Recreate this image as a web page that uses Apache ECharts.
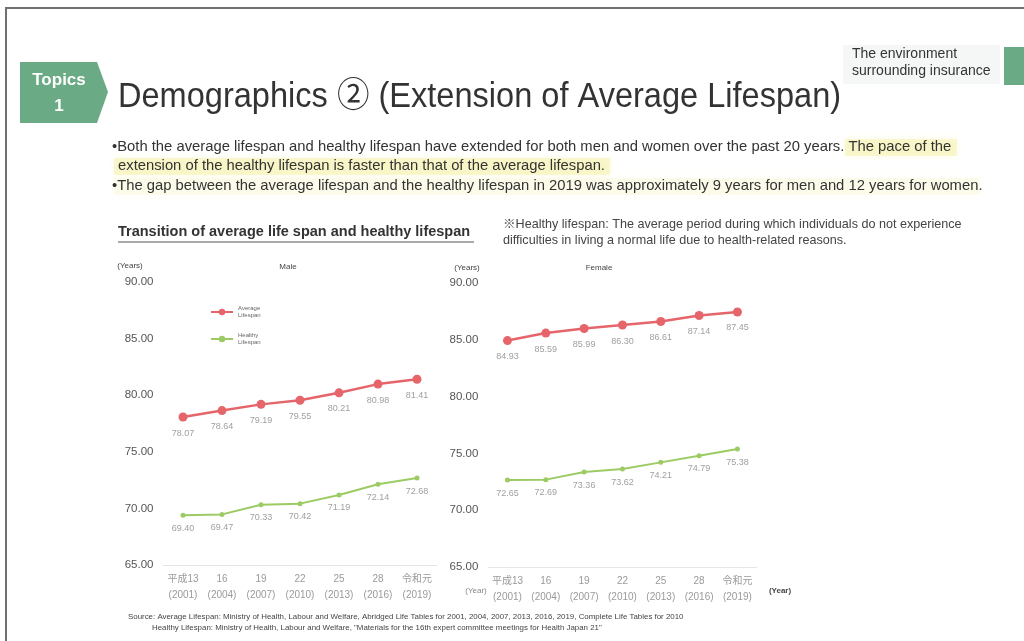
<!DOCTYPE html>
<html>
<head>
<meta charset="utf-8">
<script src="https://cdn.jsdelivr.net/npm/echarts@6/dist/echarts.min.js"></script>
<style>
  html, body { margin: 0; padding: 0; background: #fff; }
  #chart { width: 1024px; height: 641px; }
</style>
</head>
<body>
<div id="chart"></div>
<script>
// Survey years (Japanese era year + Gregorian year)
const years = ['平成13\n(2001)', '16\n(2004)', '19\n(2007)', '22\n(2010)', '25\n(2013)', '28\n(2016)', '令和元\n(2019)'];

// Male
const maleAverage = [78.07, 78.64, 79.19, 79.55, 80.21, 80.98, 81.41];
const maleHealthy = [69.40, 69.47, 70.33, 70.42, 71.19, 72.14, 72.68];

// Female
const femaleAverage = [84.93, 85.59, 85.99, 86.30, 86.61, 87.14, 87.45];
const femaleHealthy = [72.65, 72.69, 73.36, 73.62, 74.21, 74.79, 75.38];

// Y axis range (years)
const yMin = 65, yMax = 90, yStep = 5;

const RED = '#e6656b';
const GREEN = '#9ccb63';
const FONT = '"Liberation Sans", Arial, "Noto Sans CJK JP", sans-serif';

const chart = echarts.init(document.getElementById('chart'), null, { renderer: 'canvas' });

function yAxisCfg(gridIndex) {
  return {
    type: 'value', gridIndex, min: yMin, max: yMax, interval: yStep,
    axisLine: { show: false }, axisTick: { show: false },
    splitLine: { show: false },
    axisLabel: { formatter: v => v.toFixed(2), color: '#555', fontSize: 11.5, fontFamily: FONT, margin: 10 }
  };
}
function xAxisCfg(gridIndex) {
  return {
    type: 'category', gridIndex, data: years, boundaryGap: true,
    axisLine: { show: true, lineStyle: { color: '#e2e2e2', type: 'dotted' } },
    axisTick: { show: false },
    axisLabel: { interval: 0, color: '#9a9a9a', fontSize: 10, lineHeight: 16, margin: 6, fontFamily: FONT }
  };
}
function lineSeries(name, data, xi, color, big) {
  return {
    name, type: 'line', xAxisIndex: xi, yAxisIndex: xi, data,
    symbol: 'circle', symbolSize: big ? 9 : 5,
    lineStyle: { color, width: big ? 2.5 : 2 },
    itemStyle: { color },
    label: {
      show: true, position: 'bottom', distance: big ? 7 : 6,
      formatter: p => p.value.toFixed(2),
      color: '#a0a0a0', fontSize: 9, fontFamily: FONT
    },
    z: 3
  };
}

const txt = (text, x, y, font, fill, extra) => ({
  type: 'text', silent: true,
  style: Object.assign({ text, x, y, font, fill, textVerticalAlign: 'middle' }, extra || {})
});

const HL = 'rgba(244,240,160,0.45)';
const HL_GLOW = 'rgba(244,240,160,0.6)';

const graphics = [
  // slide frame
  { type: 'polyline', shape: { points: [[6, 641], [6, 8], [1024, 8]] }, style: { stroke: '#707070', lineWidth: 2, fill: null } },
  // topic badge
  { type: 'polygon', shape: { points: [[20, 62], [97, 62], [108, 92], [97, 123], [20, 123]] }, style: { fill: '#6aab86' } },
  txt('Topics', 59, 80, 'bold 17px ' + FONT, '#fff', { textAlign: 'center' }),
  txt('1', 59, 106, 'bold 17px ' + FONT, '#fff', { textAlign: 'center' }),
  // title
  { type: 'text', silent: true, x: 118, y: 97, scaleX: 0.93,
    style: { text: 'Demographics ② (Extension of Average Lifespan)', x: 0, y: 0, font: '35px ' + FONT, fill: '#333', textVerticalAlign: 'middle' } },
  // section tag
  { type: 'rect', shape: { x: 843, y: 45, width: 157, height: 39 }, style: { fill: '#f5f7f6' } },
  { type: 'rect', shape: { x: 1004, y: 47, width: 20, height: 38 }, style: { fill: '#6aab86' } },
  txt('The environment', 852, 54, '14px ' + FONT, '#333'),
  txt('surrounding insurance', 852, 71, '14px ' + FONT, '#333'),
  // soft highlights behind key sentences
  { type: 'rect', shape: { x: 845, y: 139, width: 112, height: 17 }, style: { fill: HL, shadowBlur: 6, shadowColor: HL_GLOW } },
  { type: 'rect', shape: { x: 114, y: 158, width: 496, height: 17 }, style: { fill: HL, shadowBlur: 6, shadowColor: HL_GLOW } },
  { type: 'rect', shape: { x: 114, y: 178, width: 866, height: 17 }, style: { fill: 'rgba(246,244,190,0.25)', shadowBlur: 6, shadowColor: 'rgba(246,244,190,0.4)' } },
  // bullet text
  txt('•Both the average lifespan and healthy lifespan have extended for both men and women over the past 20 years. The pace of the', 112, 147, '14.8px ' + FONT, '#333'),
  txt('extension of the healthy lifespan is faster than that of the average lifespan.', 118, 166, '14.8px ' + FONT, '#333'),
  txt('•The gap between the average lifespan and the healthy lifespan in 2019 was approximately 9 years for men and 12 years for women.', 112, 186, '14.8px ' + FONT, '#333'),
  // chart subtitle
  txt('Transition of average life span and healthy lifespan', 118, 232, 'bold 14.5px ' + FONT, '#333'),
  { type: 'line', shape: { x1: 118, y1: 242, x2: 474, y2: 242 }, style: { stroke: '#555', lineWidth: 1 } },
  // definition note
  txt('※Healthy lifespan: The average period during which individuals do not experience', 503, 225, '12.6px ' + FONT, '#444'),
  txt('difficulties in living a normal life due to health-related reasons.', 503, 241, '12.6px ' + FONT, '#444'),
  // panel headings
  txt('(Years)', 130, 266, '8px ' + FONT, '#444', { textAlign: 'center' }),
  txt('Male', 288, 267, '8px ' + FONT, '#444', { textAlign: 'center' }),
  txt('(Years)', 467, 268, '8px ' + FONT, '#444', { textAlign: 'center' }),
  txt('Female', 599, 268, '8px ' + FONT, '#444', { textAlign: 'center' }),
  txt('(Year)', 476, 591, '8px ' + FONT, '#888', { textAlign: 'center' }),
  txt('(Year)', 780, 591, 'bold 8px ' + FONT, '#444', { textAlign: 'center' }),
  // source
  txt('Source: Average Lifespan: Ministry of Health, Labour and Welfare, Abridged Life Tables for 2001, 2004, 2007, 2013, 2016, 2019, Complete Life Tables for 2010', 128, 617, '7.9px ' + FONT, '#444'),
  txt('Healthy Lifespan: Ministry of Health, Labour and Welfare, "Materials for the 16th expert committee meetings for Health Japan 21"', 152, 628, '7.9px ' + FONT, '#444')
];

chart.setOption({
  animation: false,
  backgroundColor: '#fff',
  textStyle: { fontFamily: FONT },
  legend: {
    orient: 'vertical', left: 205, top: 300,
    itemWidth: 22, itemHeight: 8, itemGap: 13,
    data: ['Average Lifespan', 'Healthy Lifespan'],
    formatter: n => n.replace(' ', '\n'),
    textStyle: { fontSize: 6, lineHeight: 7, color: '#666', fontFamily: FONT }
  },
  grid: [
    { left: 163.5, width: 273, top: 282, bottom: 76 },
    { left: 488.3, width: 268.3, top: 283, bottom: 74 }
  ],
  xAxis: [xAxisCfg(0), xAxisCfg(1)],
  yAxis: [yAxisCfg(0), yAxisCfg(1)],
  series: [
    lineSeries('Average Lifespan', maleAverage, 0, RED, true),
    lineSeries('Healthy Lifespan', maleHealthy, 0, GREEN, false),
    lineSeries('Average Lifespan', femaleAverage, 1, RED, true),
    lineSeries('Healthy Lifespan', femaleHealthy, 1, GREEN, false)
  ],
  graphic: graphics
});
</script>
</body>
</html>
